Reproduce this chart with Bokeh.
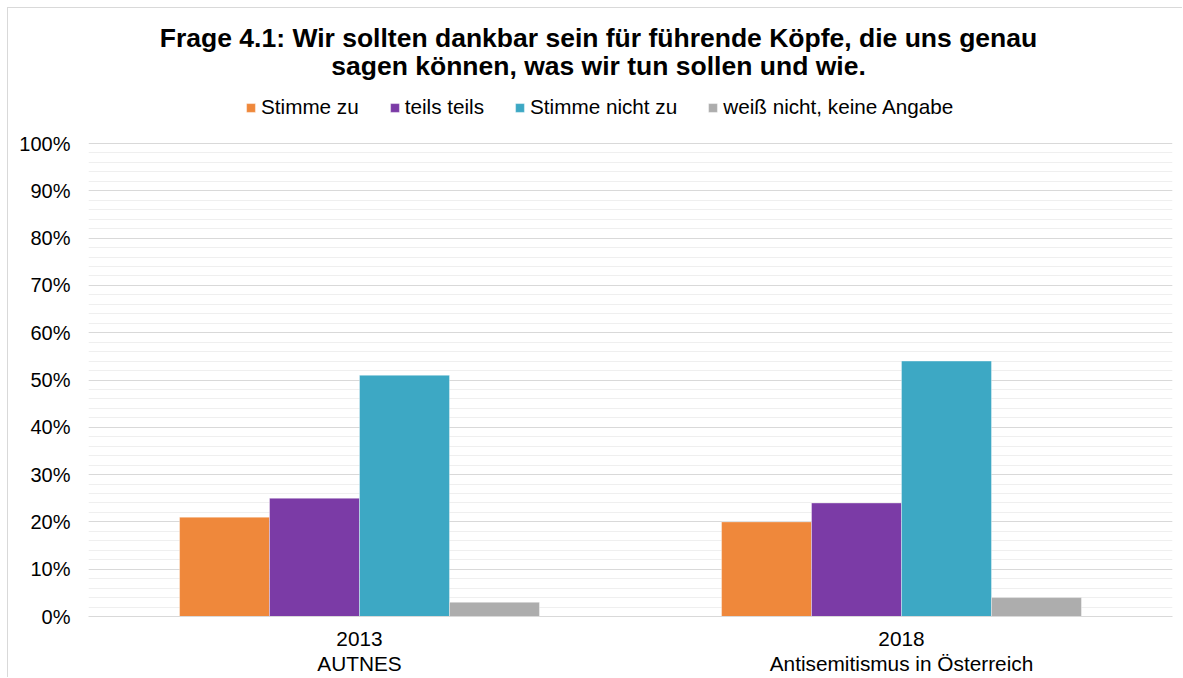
from bokeh.plotting import figure
from bokeh.models import (ColumnDataSource, FactorRange, Range1d, FixedTicker, PrintfTickFormatter,
                          Legend, LegendItem, Label)
from bokeh.transform import dodge
from bokeh.embed import file_html
from bokeh.resources import INLINE

# ---- data ----
categories = ["2013\nAUTNES", "2018\nAntisemitismus in Österreich"]
series = ["Stimme zu", "teils teils", "Stimme nicht zu", "weiß nicht, keine Angabe"]
stimme_zu = [21, 20]
teils_teils = [25, 24]
stimme_nicht_zu = [51, 54]
weiss_nicht = [3, 4]
y_ticks = [0, 10, 20, 30, 40, 50, 60, 70, 80, 90, 100]
title_lines = ["Frage 4.1: Wir sollten dankbar sein für führende Köpfe, die uns genau",
               "sagen können, was wir tun sollen und wie."]

colors = ["#EF883B", "#7B3BA6", "#3DA8C4", "#ADADAD"]
FONT = "Liberation Sans"

src = ColumnDataSource(dict(cat=categories, s0=stimme_zu, s1=teils_teils,
                            s2=stimme_nicht_zu, s3=weiss_nicht))

FW, FH = 1084, 608          # frame size; 0% at frame bottom
PX100 = 473                 # pixel height of 0..100%
y_end = 100 * FH / PX100

p = figure(frame_width=FW, frame_height=FH, x_range=FactorRange(*categories),
           y_range=Range1d(0, y_end),
           output_backend="svg", toolbar_location=None,
           min_border_left=80, min_border_right=10, min_border_top=0, min_border_bottom=54)
p.styles = {"margin-top": "7px", "margin-left": "7px",
            "border-top": "1px solid #d9d9d9", "border-left": "1px solid #d9d9d9"}
p.outline_line_color = None
p.background_fill_color = "white"
p.border_fill_color = "white"

bw = 0.166
offsets = [-1.5 * bw, -0.5 * bw, 0.5 * bw, 1.5 * bw]
renderers = []
for i, col in enumerate(["s0", "s1", "s2", "s3"]):
    r = p.vbar(x=dodge("cat", offsets[i], range=p.x_range), top=col, width=bw, source=src,
               fill_color=colors[i], line_color="white", line_width=0.6, line_alpha=0.6)
    renderers.append(r)

# y axis
p.yaxis.ticker = FixedTicker(ticks=y_ticks, minor_ticks=list(range(2, 100, 2)))
p.yaxis.formatter = PrintfTickFormatter(format="%d%%")
p.yaxis.axis_line_color = None
p.yaxis.major_tick_line_color = None
p.yaxis.minor_tick_line_color = None
p.yaxis.major_label_text_font = FONT
p.yaxis.major_label_text_font_size = "20px"
p.yaxis.major_label_text_color = "#000000"
p.yaxis.major_label_standoff = 12

p.ygrid.grid_line_color = "#d9d9d9"
p.ygrid.grid_line_width = 1
p.ygrid.minor_grid_line_color = "#efefef"
p.ygrid.minor_grid_line_width = 1
p.xgrid.grid_line_color = None

# x axis
p.xaxis.axis_line_color = "#d9d9d9"
p.xaxis.major_tick_line_color = None
p.xaxis.minor_tick_line_color = None
p.xaxis.major_label_text_font = FONT
p.xaxis.major_label_text_font_size = "20.8px"
p.xaxis.major_label_text_color = "#000000"
p.xaxis.major_label_standoff = 4
p.xaxis.major_label_text_line_height = 1.1

cx = 598 - 88
p.add_layout(Label(x=cx, y=579, x_units="screen", y_units="screen", text=title_lines[0],
                   text_align="center", text_baseline="middle", text_font=FONT,
                   text_font_style="bold", text_font_size="26.5px", text_color="#000000"))
p.add_layout(Label(x=cx, y=551, x_units="screen", y_units="screen", text=title_lines[1],
                   text_align="center", text_baseline="middle", text_font=FONT,
                   text_font_style="bold", text_font_size="26.5px", text_color="#000000"))

legend = Legend(items=[LegendItem(label=s, renderers=[r]) for s, r in zip(series, renderers)],
                orientation="horizontal", location=(157, 497),
                label_text_font=FONT, label_text_font_size="20.7px", label_text_color="#000000",
                glyph_width=11, glyph_height=11, label_standoff=5, spacing=30,
                padding=0, margin=0, border_line_color=None, background_fill_alpha=0,
                label_height=20)
p.add_layout(legend, "center")

open("out.html", "w").write(file_html(p, INLINE))
